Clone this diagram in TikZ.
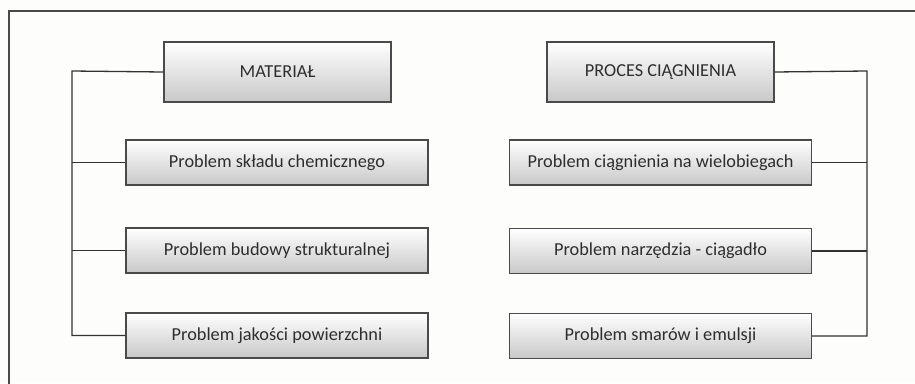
\documentclass[tikz,border=0pt]{standalone}
\usepackage{fontspec}
\setmainfont{Carlito}
\begin{document}
\begin{tikzpicture}[x=1pt,y=-1pt,
  box/.style={draw=boxline, line width=1.4pt, top color=white, bottom color=boxbottom,
    minimum height=45pt, text=txt, font=\fontsize{18.3}{21}\selectfont, inner sep=0pt},
  head/.style={box, minimum width=227pt, minimum height=60pt},
  item/.style={box, minimum width=302pt},
  link/.style={draw=linecol, line width=1.3pt}]
\definecolor{boxline}{HTML}{4A4A4A}
\definecolor{boxbottom}{HTML}{C8C8C8}
\definecolor{txt}{HTML}{2E2E2E}
\definecolor{linecol}{HTML}{333333}
\definecolor{paper}{HTML}{FDFDFB}
\useasboundingbox[fill=paper] (0,0) rectangle (915,383);
% outer frame, open to the right and bottom
\draw[draw=boxline, line width=1.8pt] (9,383.5) -- (9,11) -- (915.5,11);
% left column
\node[head] (mat) at (277.5,72) {MATERIAŁ};
\node[item] (m1) at (277,162.5) {Problem składu chemicznego};
\node[item] (m2) at (277,250.5) {Problem budowy strukturalnej};
\node[item] (m3) at (277,335.5) {Problem jakości powierzchni};
% right column
\node[head] (proc) at (660.5,72) {PROCES CIĄGNIENIA};
\node[item] (p1) at (660.5,162.5) {Problem ciągnienia na wielobiegach};
\node[item] (p2) at (660.5,251) {Problem narzędzia - ciągadło};
\node[item] (p3) at (660.5,336) {Problem smarów i emulsji};
% connectors
\coordinate (lt) at (72,71);
\coordinate (rt) at (867,71);
\draw[link] (mat.west) -- (lt) |- (m3.west);
\draw[link] (lt |- m1.west) -- (m1.west);
\draw[link] (lt |- m2.west) -- (m2.west);
\draw[link] (proc.east) -- (rt) |- (p3.east);
\draw[link] (rt |- p1.east) -- (p1.east);
\draw[link] (rt |- p2.east) -- (p2.east);
\end{tikzpicture}
\end{document}
